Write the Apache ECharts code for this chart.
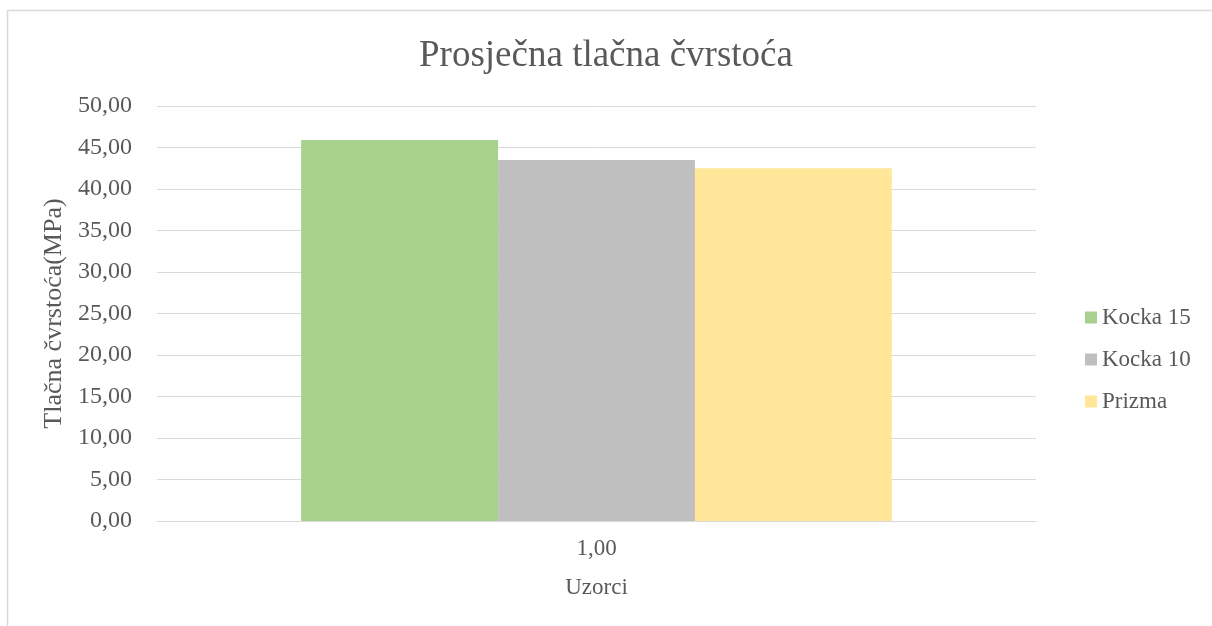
<!DOCTYPE html>
<html>
<head>
<meta charset="utf-8">
<script src="https://cdn.jsdelivr.net/npm/echarts@6/dist/echarts.min.js"></script>
<style>
  html, body { margin: 0; padding: 0; background: #ffffff; }
  #chart { width: 1212px; height: 626px; }
</style>
</head>
<body>
<div id="chart"></div>
<script>
// Average compressive strength per specimen type
const categories = ['1,00'];
const seriesNames = ['Kocka 15', 'Kocka 10', 'Prizma'];
const kocka15 = [45.9];
const kocka10 = [43.5];
const prizma = [42.5];
const seriesValues = [kocka15, kocka10, prizma];
const colors = ['#a9d18e', '#bfbfbf', '#ffe699'];

const font = '"Liberation Serif", "Times New Roman", serif';
const textColor = '#595959';

const chart = echarts.init(document.getElementById('chart'));

chart.setOption({
  animation: false,
  backgroundColor: '#ffffff',
  title: {
    text: 'Prosječna tlačna čvrstoća',
    left: 'center',
    top: 33,
    textStyle: { fontFamily: font, fontSize: 37, fontWeight: 'normal', color: textColor }
  },
  graphic: [{
    type: 'rect',
    shape: { x: 7.5, y: 10.5, width: 1220, height: 640 },
    style: { fill: 'none', stroke: '#d9d9d9', lineWidth: 1.5 },
    silent: true
  }],
  legend: {
    orient: 'vertical',
    left: 1080,
    top: 301,
    itemWidth: 12,
    itemHeight: 12,
    itemGap: 19,
    icon: 'rect',
    textStyle: { fontFamily: font, fontSize: 23, color: textColor },
    data: seriesNames
  },
  grid: { left: 157, right: 176, top: 106, bottom: 105, containLabel: false },
  xAxis: {
    type: 'category',
    data: categories,
    name: 'Uzorci',
    nameLocation: 'middle',
    nameGap: 55,
    nameTextStyle: { fontFamily: font, fontSize: 23, color: textColor },
    axisLine: { lineStyle: { color: '#d9d9d9' } },
    axisTick: { show: false },
    axisLabel: { fontFamily: font, fontSize: 23, color: textColor, margin: 16 }
  },
  yAxis: {
    type: 'value',
    min: 0,
    max: 50,
    interval: 5,
    name: 'Tlačna čvrstoća(MPa)',
    nameLocation: 'middle',
    nameGap: 90,
    nameTextStyle: { fontFamily: font, fontSize: 26, color: textColor },
    axisLine: { show: false },
    axisTick: { show: false },
    splitLine: { lineStyle: { color: '#d9d9d9' } },
    axisLabel: {
      fontFamily: font, fontSize: 24, color: textColor, margin: 25,
      formatter: v => v.toFixed(2).replace('.', ',')
    }
  },
  series: seriesNames.map((name, i) => ({
    name,
    type: 'bar',
    data: seriesValues[i],
    barGap: '0%',
    barCategoryGap: '32.8%',
    itemStyle: { color: colors[i] }
  }))
});
</script>
</body>
</html>
